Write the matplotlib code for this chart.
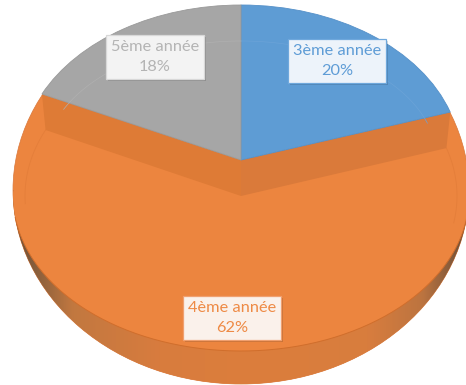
import matplotlib
matplotlib.use("Agg")
import numpy as np
import matplotlib.pyplot as plt
from matplotlib.patches import Wedge, Ellipse, Polygon
from matplotlib.colors import LinearSegmentedColormap
import matplotlib.patheffects as pe

categories = ["3ème année", "4ème année", "5ème année"]
values = [20, 62, 18]
colors = ["#5E9CD4", "#EC853F", "#A6A6A6"]
text_colors = ["#5E9CD6", "#EE8A45", "#B4B4B4"]
box_faces = ["#EDF3FA", "#FAF1EB", "#F3F3F3"]
box_edges = ["#6FA8DC", "#F0A070", "#D8D8D8"]
label_px = [(337, 61), (232, 318), (155, 57)]

W, H = 466, 385
CX, CY, A, B = 241, 160, 220, 155


def dx(p):
    return (p - CX) / A


def dy(p):
    return (CY - p) / B


fig = plt.figure(figsize=(W / 100, H / 100), dpi=100, facecolor="white")
ax = fig.add_axes([0, 0, 1, 1])
wedges, _ = ax.pie(values, startangle=90, counterclock=False, colors=colors,
                   radius=1, center=(0, 0),
                   wedgeprops=dict(linewidth=0.6))
ax.set_aspect("auto")
ax.axis("off")

blue, orange, gray = wedges
blue.set_edgecolor("#5590C8")
gray.set_edgecolor("#999999")
blue.set_zorder(6)
gray.set_zorder(6)
orange.set_visible(False)
t1, t2 = orange.theta1, orange.theta2

clip = Wedge((0, 0), 5, t1, t2, transform=ax.transData)


def ell(cx, cy, a, b, **kw):
    p = Ellipse((dx(cx), dy(cy)), 2 * a / A, 2 * b / B, **kw)
    ax.add_patch(p)
    p.set_clip_path(clip)
    return p


# silhouette of the lifted slice
ell(241, 190, 228, 194, facecolor=colors[1], edgecolor="#D9773A", linewidth=0.5, zorder=1)

# shaded rim
cmap = LinearSegmentedColormap.from_list("rim", [
    (0.00, "#6B4E36"), (0.05, "#8A5F3C"), (0.13, "#C27840"), (0.32, "#D87C3E"),
    (0.52, "#DC7E3C"), (0.78, "#D87D3E"), (0.90, "#BC7440"), (0.97, "#80583A"),
    (1.00, "#5F4833")])
grad = np.linspace(0, 1, 256).reshape(1, -1)
im = ax.imshow(grad, cmap=cmap, extent=(dx(13), dx(469), dy(385), dy(190)),
               aspect="auto", zorder=2, interpolation="bilinear")
im.set_clip_path(Ellipse((dx(241), dy(190)), 2 * 228 / A, 2 * 194 / B, transform=ax.transData))
ax.set_xlim(dx(0), dx(W))
ax.set_ylim(dy(H), dy(0))

# upper face and its lower edge
ell(241, 196, 228, 155, facecolor=colors[1], edgecolor="none", zorder=3)
low = np.radians(np.linspace(-172, -8, 200))
ax.plot(dx(241) + 228 / A * np.cos(low), dy(196) + 155 / B * np.sin(low),
        color="#D06E2C", lw=0.7, zorder=3.4)

# walls joining the sunken face to the apex
fa, fb = 216, 155
t1r, t2r = np.radians(t1), np.radians(t2)
face = (dx(241), dy(196))
p_right = (np.cos(t2r), np.sin(t2r))
p_left = (np.cos(t1r), np.sin(t1r))
q_right = (face[0] + fa / A * np.cos(t2r), face[1] + fb / B * np.sin(t2r))
q_left = (face[0] + fa / A * np.cos(t1r), face[1] + fb / B * np.sin(t1r))
ax.add_patch(Polygon([(0, 0), p_left, q_left, face], closed=True,
                     facecolor="#DE7B36", edgecolor="none", zorder=4))
ax.add_patch(Polygon([(0, 0), p_right, q_right, face], closed=True,
                     facecolor="#DA7A3A", edgecolor="none", zorder=4))

# faint inner line running down from each wall corner
for lo, hi in ((t1, t1 + 28), (t2 - 28, t2)):
    seg = np.radians(np.linspace(lo, hi, 40))
    ax.plot(dx(241) + fa / A * np.cos(seg), dy(196) + fb / B * np.sin(seg),
            color="#E47E3A", lw=0.6, zorder=3.5)

# inner arcs on the two flat slices
for w, col in ((blue, "#6BA3D8"), (gray, "#B0B0B0")):
    th = np.radians(np.linspace(w.theta1, w.theta2, 120))
    ax.plot(196 / A * np.cos(th), 119 / B * np.sin(th), color=col, lw=0.5, zorder=7)

# labels
for cat, v, (px, py), tc, bf, be in zip(categories, values, label_px,
                                         text_colors, box_faces, box_edges):
    t = ax.text(dx(px), dy(py), f"{cat}\n{v}%", ha="center", va="center",
                family="Lato", fontsize=11.8, color=tc, linespacing=1.55, zorder=9,
                bbox=dict(boxstyle="square,pad=0.3", facecolor=bf, edgecolor=be, linewidth=0.9))
    t.get_bbox_patch().set_path_effects([
        pe.SimplePatchShadow(offset=(1.2, -1.2), shadow_rgbFace="#000000", alpha=0.14),
        pe.Normal()])

fig.savefig("out.png", dpi=100, facecolor="white")
